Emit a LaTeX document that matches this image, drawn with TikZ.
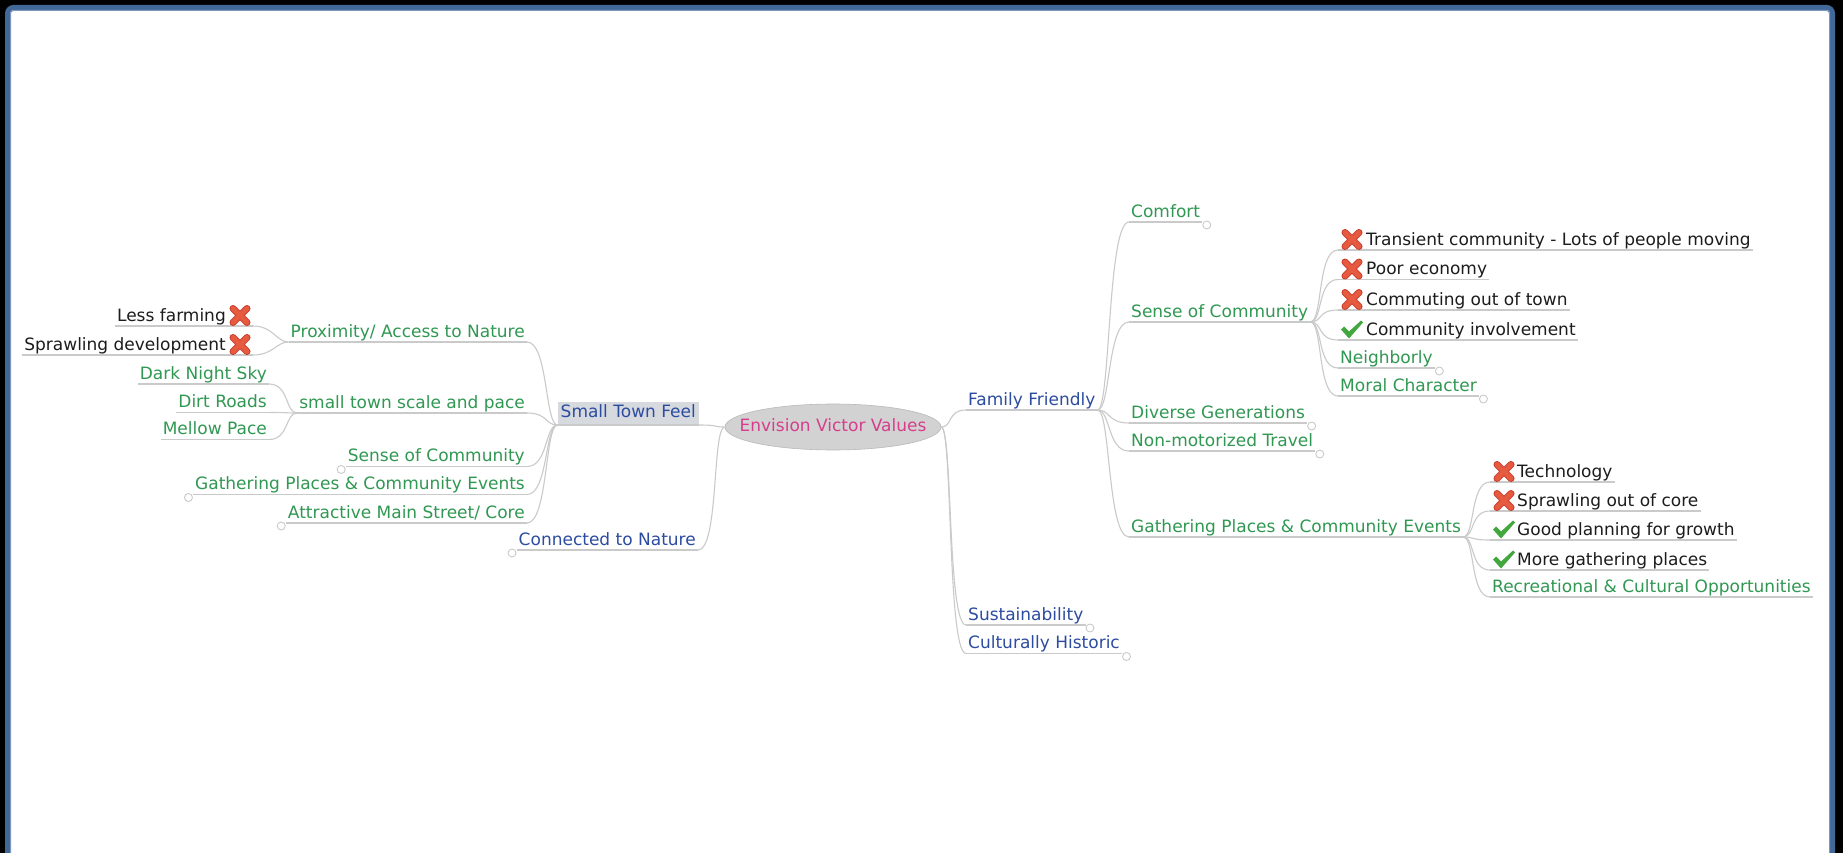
\documentclass[tikz,border=0pt]{standalone}
\usepackage{fontspec}
\setmainfont{DejaVu Sans}
\usetikzlibrary{shapes.geometric,calc}
\definecolor{frameblue}{RGB}{66,104,152}
\definecolor{framelight}{RGB}{122,152,192}
\definecolor{tgreen}{RGB}{48,152,82}
\definecolor{tblue}{RGB}{44,76,160}
\definecolor{tpink}{RGB}{214,62,140}
\definecolor{tblack}{RGB}{28,28,28}
\definecolor{connc}{RGB}{202,202,202}
\definecolor{ellfill}{RGB}{210,210,210}
\definecolor{hlfill}{RGB}{214,217,222}
\definecolor{xred}{RGB}{230,90,64}
\definecolor{xdark}{RGB}{200,58,42}
\definecolor{ckgreen}{RGB}{66,168,62}
\newcommand\linkR[3]{\draw[conn] (#1) .. controls +({0.45*#3},0) and +({-0.75*#3},0) .. (#2);}
\newcommand\linkL[3]{\draw[conn] (#1) .. controls +({-0.45*#3},0) and +({0.75*#3},0) .. (#2);}
\tikzset{
  conn/.style={draw=connc, line width=1.1pt},
  leafdot/.style={draw=connc, line width=0.9pt, fill=white},
  topic/.style={font=\fontsize{17}{20}\selectfont, inner xsep=2pt, inner ysep=0pt,
    text height=12.5pt, text depth=4.5pt,
    append after command={(\tikzlastnode.south west) edge[conn] (\tikzlastnode.south east)}},
  gtxt/.style={text=tgreen},
  btxt/.style={text=tblue},
  ktxt/.style={text=tblack},
  crossicon/.pic={
    \draw[xdark, line width=7pt, line cap=round] (-7,-7) -- (7,7) (-7,7) -- (7,-7);
    \draw[xred, line width=5pt, line cap=round] (-7,-7) -- (7,7) (-7,7) -- (7,-7);
  },
  checkicon/.pic={
    \fill[ckgreen] (-11,0) -- (-8,-3) -- (-3,2) -- (9,-9) -- (11,-7) -- (-3,9) -- cycle;
  }
}
\begin{document}
\begin{tikzpicture}[x=1pt,y=-1pt]
\useasboundingbox (0,0) rectangle (1843,853);
\clip (0,0) rectangle (1843,853);
\fill[black] (0,0) rectangle (1843,853);
\draw[frameblue, line width=5pt, rounded corners=6pt, fill=white] (7.5,7.5) rectangle (1832.5,880);
\draw[framelight, line width=1pt, rounded corners=3pt] (10.5,10.5) rectangle (1829.5,880);

% centre
\node[ellipse, fill=ellfill, draw=ellfill!88!black, line width=0.6pt, minimum width=216pt,
  minimum height=46pt, inner xsep=-22pt, inner ysep=0pt, text height=12.5pt, text depth=4.5pt,
  text=tpink, font=\fontsize{17}{20}\selectfont] (ev) at (833,427) {Envision Victor Values};

% left side
\node[topic, btxt, fill=hlfill, inner xsep=3pt, inner ysep=3pt, anchor=south east] (stf) at (699,425) {Small Town Feel};
\node[topic, btxt, anchor=south east] (ctn) at (698,550) {Connected to Nature};
\node[topic, gtxt, anchor=south east] (prox) at (527,342) {Proximity/ Access to Nature};
\node[topic, gtxt, anchor=south east] (stsp) at (527,413) {small town scale and pace};
\node[topic, gtxt, anchor=south east] (socL) at (527,466.5) {Sense of Community};
\node[topic, gtxt, anchor=south east] (gpL) at (527,494.5) {Gathering Places \& Community Events};
\node[topic, gtxt, anchor=south east] (amsL) at (527,523) {Attractive Main Street/ Core};
\node[topic, ktxt, anchor=south east] (lf) at (253,326) {Less farming\hspace*{25pt}};
\node[topic, ktxt, anchor=south east] (sd) at (253,355) {Sprawling development\hspace*{25pt}};
\node[topic, gtxt, anchor=south east] (dns) at (269,384) {Dark Night Sky};
\node[topic, gtxt, anchor=south east] (dr) at (269,412.5) {Dirt Roads};
\node[topic, gtxt, anchor=south east] (mp) at (269,439.5) {Mellow Pace};

% right side
\node[topic, btxt, anchor=south west] (ff) at (966,410) {Family Friendly};
\node[topic, btxt, anchor=south west] (sus) at (966,625) {Sustainability};
\node[topic, btxt, anchor=south west] (ch) at (966,653.5) {Culturally Historic};
\node[topic, gtxt, anchor=south west] (comf) at (1129,222) {Comfort};
\node[topic, gtxt, anchor=south west] (socR) at (1129,322) {Sense of Community};
\node[topic, gtxt, anchor=south west] (dg) at (1129,423) {Diverse Generations};
\node[topic, gtxt, anchor=south west] (nmt) at (1129,451) {Non-motorized Travel};
\node[topic, gtxt, anchor=south west] (gpR) at (1129,537) {Gathering Places \& Community Events};
\node[topic, ktxt, anchor=south west] (tr) at (1338,250) {\hspace*{26pt}Transient community - Lots of people moving};
\node[topic, ktxt, anchor=south west] (pe) at (1338,279.5) {\hspace*{26pt}Poor economy};
\node[topic, ktxt, anchor=south west] (co) at (1338,310) {\hspace*{26pt}Commuting out of town};
\node[topic, ktxt, anchor=south west] (ci) at (1338,340) {\hspace*{26pt}Community involvement};
\node[topic, gtxt, anchor=south west] (nb) at (1338,368) {Neighborly};
\node[topic, gtxt, anchor=south west] (mc) at (1338,396) {Moral Character};
\node[topic, ktxt, anchor=south west] (tech) at (1490,482) {\hspace*{25pt}Technology};
\node[topic, ktxt, anchor=south west] (spc) at (1490,511) {\hspace*{25pt}Sprawling out of core};
\node[topic, ktxt, anchor=south west] (gpg) at (1490,540) {\hspace*{25pt}Good planning for growth};
\node[topic, ktxt, anchor=south west] (mgp) at (1490,570) {\hspace*{25pt}More gathering places};
\node[topic, gtxt, anchor=south west] (rco) at (1490,597) {Recreational \& Cultural Opportunities};

% icons
\pic at ($(lf.south east)+(-13,-10.5)$) {crossicon};
\pic at ($(sd.south east)+(-13,-10.5)$) {crossicon};
\pic at ($(tr.south west)+(14,-10.5)$) {crossicon};
\pic at ($(pe.south west)+(14,-10.5)$) {crossicon};
\pic at ($(co.south west)+(14,-10.5)$) {crossicon};
\pic at ($(ci.south west)+(14,-10.5)$) {checkicon};
\pic at ($(tech.south west)+(14,-10.5)$) {crossicon};
\pic at ($(spc.south west)+(14,-10.5)$) {crossicon};
\pic at ($(gpg.south west)+(14,-10.5)$) {checkicon};
\pic at ($(mgp.south west)+(14,-10.5)$) {checkicon};

% connectors
\linkL{ev.west}{stf.south east}{27}
\linkL{ev.west}{ctn.south east}{28}
\linkR{ev.east}{ff.south west}{25}
\linkR{ev.east}{sus.south west}{25}
\linkR{ev.east}{ch.south west}{25}
\foreach \c in {prox,stsp,socL,gpL,amsL}{\linkL{stf.south west}{\c.south east}{28}}
\foreach \c in {lf,sd}{\linkL{prox.south west}{\c.south east}{27}}
\foreach \c in {dns,dr,mp}{\linkL{stsp.south west}{\c.south east}{27}}
\foreach \c in {comf,socR,dg,nmt,gpR}{\linkR{ff.south east}{\c.south west}{29}}
\foreach \c in {tr,pe,co,ci,nb,mc}{\linkR{socR.south east}{\c.south west}{28}}
\foreach \c in {tech,spc,gpg,mgp,rco}{\linkR{gpR.south east}{\c.south west}{27}}

% leaf end circles
\foreach \c in {comf,nb,mc,dg,nmt,sus,ch}{\draw[leafdot] ($(\c.south east)+(4.5,3)$) circle[radius=4];}
\foreach \c in {socL,gpL,amsL,ctn}{\draw[leafdot] ($(\c.south west)+(-4.5,3)$) circle[radius=4];}
\end{tikzpicture}
\end{document}
